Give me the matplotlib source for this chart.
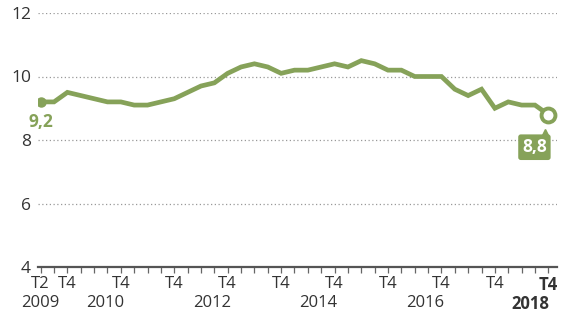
import matplotlib
matplotlib.use("Agg")
import matplotlib.pyplot as plt
import matplotlib.transforms as mtransforms

# quarterly values, 2009 T2 .. 2018 T4
values = [9.2, 9.2, 9.5,
          9.4, 9.3, 9.2, 9.2,
          9.1, 9.1, 9.2, 9.3,
          9.5, 9.7, 9.8, 10.1,
          10.3, 10.4, 10.3, 10.1,
          10.2, 10.2, 10.3, 10.4,
          10.3, 10.5, 10.4, 10.2,
          10.2, 10.0, 10.0, 10.0,
          9.6, 9.4, 9.6, 9.0,
          9.2, 9.1, 9.1, 8.8]
first_label = "9,2"
last_label = "8,8"
years = ["2009", "2010", "2012", "2014", "2016", "2018"]
year_pos = [0, 4.8, 12.8, 20.8, 28.8, 38.1]
y_ticks = [4, 6, 8, 10, 12]

green = "#86a259"
dark = "#333333"
plt.rcParams['font.family'] = ['Open Sans', 'DejaVu Sans']

x = list(range(len(values)))
# quarter labels: first point is T2, then T4 every 4
qlabels = []
for i in x:
    q = (i + 1) % 4 + 1
    qlabels.append("T%d" % q if (i == 0 or q == 4) else "")

fig = plt.figure(figsize=(5.64, 3.15), dpi=100)
ax = fig.add_axes([38 / 564, 48 / 315, (557 - 38) / 564, (267 - 13) / 315])

ax.plot(x, values, color=green, lw=3.4, solid_joinstyle="miter", zorder=3)
ax.plot(x[0], values[0], "o", color=green, ms=6.5, zorder=4)
ax.plot(x[-1], values[-1], "o", mfc="white", mec=green, mew=2.8, ms=10, zorder=5)

ax.set_xlim(-0.2, 38.65)
ax.set_ylim(4, 12)
ax.set_yticks(y_ticks)
ax.yaxis.grid(True, color="#999999", ls=(0, (1, 2)), lw=0.9)
ax.set_axisbelow(True)
for s in ["top", "right", "left"]:
    ax.spines[s].set_visible(False)
ax.spines["bottom"].set_color("#555555")
ax.spines["bottom"].set_linewidth(1.6)
ax.tick_params(axis="y", length=0, pad=5, labelsize=12.5, labelcolor=dark)

ax.set_xticks(x)
ax.set_xticklabels(qlabels)
ax.tick_params(axis="x", length=4, width=0.9, color="#666666", pad=2.5,
               labelsize=12, labelcolor=dark)
ax.get_xticklabels()[-1].set_fontweight("bold")

trans = mtransforms.blended_transform_factory(ax.transData, ax.transAxes)
for yr, p in zip(years, year_pos):
    last = yr == years[-1]
    ax.text(p, -0.11, yr, transform=trans, ha="right" if last else "center",
            va="top", fontsize=12, color=dark,
            fontweight="bold" if last else "normal")

ax.text(x[0], values[0] - 0.34, first_label, ha="center", va="top",
        fontsize=12.5, fontweight="bold", color=green)

ax.annotate(last_label, xy=(x[-1], values[-1]), xytext=(-10, -17),
            textcoords="offset points", ha="center", va="top",
            fontsize=12.5, fontweight="bold", color="white",
            bbox=dict(boxstyle="round,pad=0.22,rounding_size=0.15", fc=green, ec="none"))
tri = mtransforms.offset_copy(ax.transData, fig=fig, x=-2.5, y=-13, units="points")
ax.plot(x[-1], values[-1], marker="^", color=green, ms=6, transform=tri,
        clip_on=False)

fig.savefig("out.png", dpi=100)
